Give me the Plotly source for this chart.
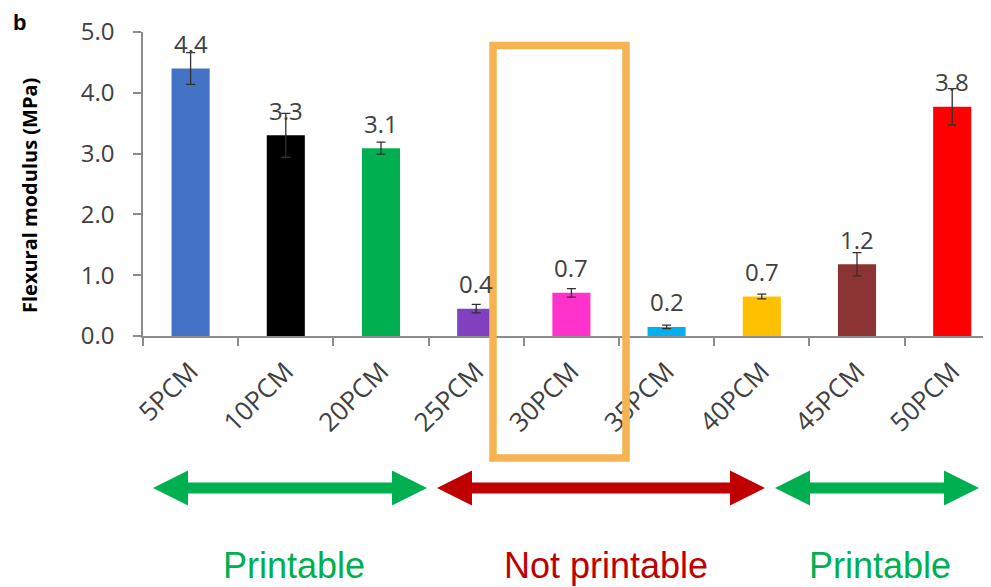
import plotly.graph_objects as go

categories = ["5PCM", "10PCM", "20PCM", "25PCM", "30PCM", "35PCM", "40PCM", "45PCM", "50PCM"]
values = [4.40, 3.30, 3.09, 0.45, 0.71, 0.15, 0.65, 1.18, 3.77]
errors = [0.26, 0.36, 0.10, 0.07, 0.07, 0.03, 0.04, 0.19, 0.30]
labels = ["4.4", "3.3", "3.1", "0.4", "0.7", "0.2", "0.7", "1.2", "3.8"]
colors = ["#4472C4", "#000000", "#00B050", "#8040C0", "#FF33CC",
          "#00B0F0", "#FFC000", "#8C3333", "#FF0000"]
y_ticks = [0, 1, 2, 3, 4, 5]
regions = ["Printable", "Not printable", "Printable"]
region_colors = ["#00B050", "#C00000", "#00B050"]

# page body has an 8px margin, so the figure is drawn 8px smaller and shifted
OFF = 8
W, H = 991, 587
L, R, T, B = 143, 991, 32, 336


def px(x):
    return (x - L) / (R - L)


def py(y):
    return (B - y) / (B - T)


fig = go.Figure()
fig.add_trace(go.Bar(
    x=categories, y=values,
    marker=dict(color=colors, line=dict(width=0)),
    width=0.4,
    error_y=dict(type="data", array=errors, visible=True,
                 color="#303030", thickness=1.3, width=4.5),
    showlegend=False,
))

for c, v, t in zip(categories, values, labels):
    fig.add_annotation(x=c, y=v, xref="x", yref="y", text=t, showarrow=False,
                       yshift=25, yanchor="middle",
                       font=dict(family="Open Sans", size=24, color="#404040"))

shapes = []
shapes.append(dict(type="rect", xref="paper", yref="paper",
                   x0=px(493), x1=px(626), y0=py(458), y1=py(45.5),
                   line=dict(color="#F5B352", width=7.5), fillcolor="rgba(0,0,0,0)",
                   layer="above"))


def double_arrow(x1, x2, yc, color, hl=35, hh=17.5, sh=5.5):
    pts = [(x1, yc), (x1 + hl, yc - hh), (x1 + hl, yc - sh), (x2 - hl, yc - sh),
           (x2 - hl, yc - hh), (x2, yc), (x2 - hl, yc + hh), (x2 - hl, yc + sh),
           (x1 + hl, yc + sh), (x1 + hl, yc + hh)]
    path = "M " + " L ".join(f"{px(a):.5f},{py(b):.5f}" for a, b in pts) + " Z"
    return dict(type="path", xref="paper", yref="paper", path=path,
                fillcolor=color, line=dict(width=0), layer="above")


arrow_spans = [(153, 427), (437, 765), (775, 979)]
for (a, b), col in zip(arrow_spans, region_colors):
    shapes.append(double_arrow(a, b, 488, col))

text_x = [294, 606, 880]
for t, col, xx in zip(regions, region_colors, text_x):
    fig.add_annotation(x=px(xx), y=py(565), xref="paper", yref="paper", text=t,
                       showarrow=False, xanchor="center", yanchor="middle",
                       font=dict(family="Liberation Sans", size=36, color=col))

fig.add_annotation(x=px(29), y=py(196), xref="paper", yref="paper",
                   text="<b>Flexural modulus (MPa)</b>", textangle=-90, showarrow=False,
                   xanchor="center", yanchor="middle",
                   font=dict(family="Open Sans", size=20, color="#000000"))
fig.add_annotation(x=px(19), y=py(8), xref="paper", yref="paper",
                   text="<b>b</b>", showarrow=False, xanchor="center", yanchor="top",
                   font=dict(family="Liberation Sans", size=22, color="#000000"))

fig.update_layout(
    width=W - OFF, height=H - OFF, autosize=False,
    margin=dict(l=L - OFF, r=W - R, t=T - OFF, b=H - B, pad=0),
    plot_bgcolor="white", paper_bgcolor="white",
    shapes=shapes,
)
fig.update_xaxes(range=[-0.5, -0.5 + (R - L) / 95.2], showline=True, linecolor="#8C8C8C",
                 linewidth=1.5, ticks="outside", ticklen=8, tickcolor="#8C8C8C",
                 tickwidth=1.5, tickson="boundaries", tickangle=-45, showgrid=False,
                 ticklabelstandoff=8,
                 tickfont=dict(family="Open Sans", size=26, color="#404040"))
fig.update_yaxes(range=[0, 5], tickvals=y_ticks, tickformat=".1f", showline=True,
                 linecolor="#8C8C8C", linewidth=1.5, ticks="outside", ticklen=8,
                 tickcolor="#8C8C8C", tickwidth=1.5, showgrid=False, zeroline=False,
                 ticklabelstandoff=14,
                 tickfont=dict(family="Open Sans", size=24, color="#404040"))

fig.write_html("out.html")
